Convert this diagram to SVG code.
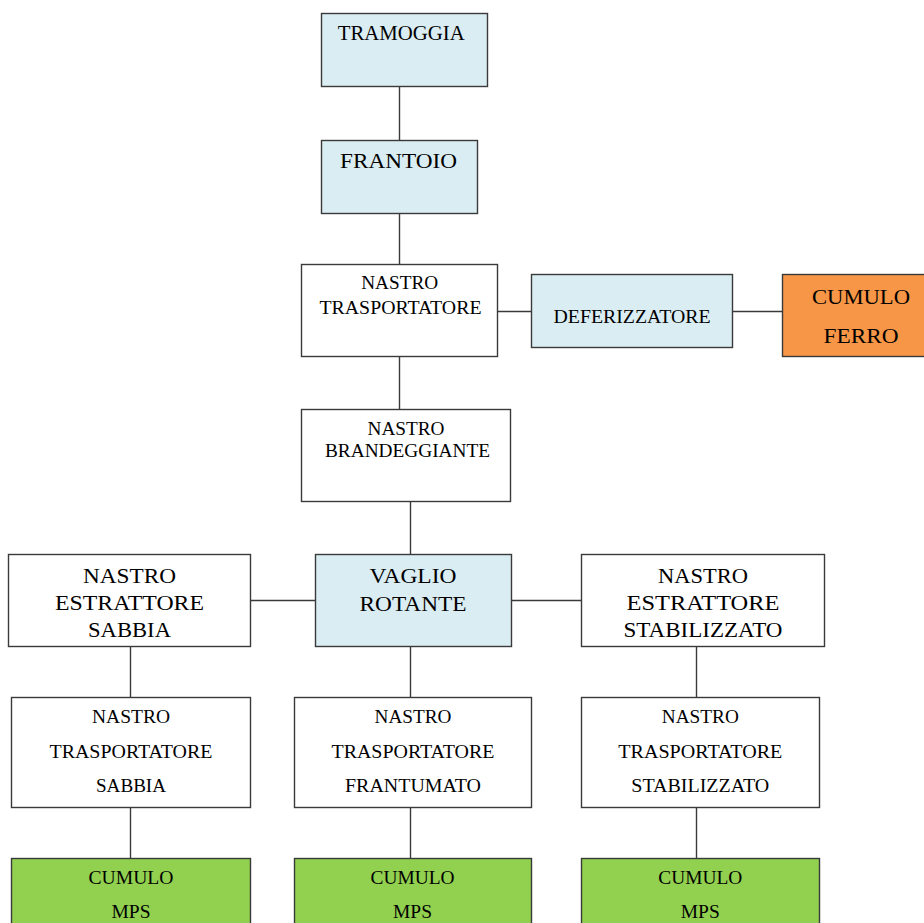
<svg xmlns="http://www.w3.org/2000/svg" width="924" height="923" viewBox="0 0 924 923">
<style>
.n rect{stroke:#3a3a3a;stroke-width:1.4}
.w{fill:#ffffff}
.b{fill:#daedf3}
.o{fill:#f79646}
.g{fill:#92d050}
text{font-family:"Liberation Serif","Times New Roman",serif;fill:#000;text-anchor:middle}
.s18{font-size:18px}
.s19{font-size:19px}
.s21{font-size:21px}
.s22{font-size:22px}
#connectors line{stroke:#3a3a3a;stroke-width:1.4}
</style>
<rect x="0" y="0" width="924" height="923" fill="#ffffff"/>
<g id="connectors">
<line x1="399.5" y1="86" x2="399.5" y2="140"/>
<line x1="399.5" y1="213" x2="399.5" y2="264"/>
<line x1="497" y1="311.5" x2="532" y2="311.5"/>
<line x1="732" y1="311.5" x2="783" y2="311.5"/>
<line x1="399.5" y1="356" x2="399.5" y2="409"/>
<line x1="410.5" y1="501" x2="410.5" y2="554"/>
<line x1="251" y1="600.5" x2="315" y2="600.5"/>
<line x1="511" y1="600.5" x2="582" y2="600.5"/>
<line x1="130.5" y1="646" x2="130.5" y2="697"/>
<line x1="410.5" y1="646" x2="410.5" y2="697"/>
<line x1="696.5" y1="646" x2="696.5" y2="697"/>
<line x1="130.5" y1="807" x2="130.5" y2="858"/>
<line x1="410.5" y1="807" x2="410.5" y2="858"/>
<line x1="696.5" y1="807" x2="696.5" y2="858"/>
</g>
<g id="tramoggia" class="n">
<rect class="b" x="321.5" y="13.5" width="166" height="73"/>
<text class="s21" x="401.3" y="40" textLength="127" lengthAdjust="spacingAndGlyphs">TRAMOGGIA</text>
</g>
<g id="frantoio" class="n">
<rect class="b" x="321.5" y="140.5" width="156" height="73"/>
<text class="s22" x="398.5" y="168" textLength="117" lengthAdjust="spacingAndGlyphs">FRANTOIO</text>
</g>
<g id="nastro-trasportatore" class="n">
<rect class="w" x="301.5" y="264.5" width="196" height="92"/>
<text class="s18" x="399.7" y="289" textLength="77" lengthAdjust="spacingAndGlyphs">NASTRO</text>
<text class="s18" x="400.5" y="313.5" textLength="162" lengthAdjust="spacingAndGlyphs">TRASPORTATORE</text>
</g>
<g id="deferizzatore" class="n">
<rect class="b" x="531.5" y="274.5" width="201" height="73"/>
<text class="s18" x="632" y="323" textLength="157" lengthAdjust="spacingAndGlyphs">DEFERIZZATORE</text>
</g>
<g id="cumulo-ferro" class="n">
<rect class="o" x="782.5" y="274.5" width="160" height="82"/>
<text class="s22" x="861" y="304" textLength="98" lengthAdjust="spacingAndGlyphs">CUMULO</text>
<text class="s22" x="861" y="343" textLength="75" lengthAdjust="spacingAndGlyphs">FERRO</text>
</g>
<g id="nastro-brandeggiante" class="n">
<rect class="w" x="301.5" y="409.5" width="209" height="92"/>
<text class="s18" x="406" y="435" textLength="77" lengthAdjust="spacingAndGlyphs">NASTRO</text>
<text class="s18" x="407.5" y="457" textLength="165" lengthAdjust="spacingAndGlyphs">BRANDEGGIANTE</text>
</g>
<g id="nastro-estrattore-sabbia" class="n">
<rect class="w" x="8.5" y="554.5" width="242" height="92"/>
<text class="s22" x="129.5" y="583" textLength="93" lengthAdjust="spacingAndGlyphs">NASTRO</text>
<text class="s22" x="129.5" y="610" textLength="149" lengthAdjust="spacingAndGlyphs">ESTRATTORE</text>
<text class="s22" x="129.5" y="637" textLength="83" lengthAdjust="spacingAndGlyphs">SABBIA</text>
</g>
<g id="vaglio-rotante" class="n">
<rect class="b" x="315.5" y="554.5" width="196" height="92"/>
<text class="s22" x="413" y="583" textLength="87" lengthAdjust="spacingAndGlyphs">VAGLIO</text>
<text class="s22" x="413" y="610.5" textLength="107" lengthAdjust="spacingAndGlyphs">ROTANTE</text>
</g>
<g id="nastro-estrattore-stabilizzato" class="n">
<rect class="w" x="581.5" y="554.5" width="243" height="92"/>
<text class="s22" x="703" y="583" textLength="90" lengthAdjust="spacingAndGlyphs">NASTRO</text>
<text class="s22" x="703" y="610" textLength="153" lengthAdjust="spacingAndGlyphs">ESTRATTORE</text>
<text class="s22" x="703" y="637" textLength="159" lengthAdjust="spacingAndGlyphs">STABILIZZATO</text>
</g>
<g id="nastro-trasportatore-sabbia" class="n">
<rect class="w" x="11.5" y="697.5" width="239" height="110"/>
<text class="s19" x="131" y="723" textLength="78" lengthAdjust="spacingAndGlyphs">NASTRO</text>
<text class="s19" x="131" y="758" textLength="163" lengthAdjust="spacingAndGlyphs">TRASPORTATORE</text>
<text class="s19" x="131" y="792" textLength="70" lengthAdjust="spacingAndGlyphs">SABBIA</text>
</g>
<g id="nastro-trasportatore-frantumato" class="n">
<rect class="w" x="294.5" y="697.5" width="237" height="110"/>
<text class="s19" x="413" y="723" textLength="77" lengthAdjust="spacingAndGlyphs">NASTRO</text>
<text class="s19" x="413" y="758" textLength="163" lengthAdjust="spacingAndGlyphs">TRASPORTATORE</text>
<text class="s19" x="413" y="792" textLength="136" lengthAdjust="spacingAndGlyphs">FRANTUMATO</text>
</g>
<g id="nastro-trasportatore-stabilizzato" class="n">
<rect class="w" x="581.5" y="697.5" width="238" height="110"/>
<text class="s19" x="700.3" y="723" textLength="77" lengthAdjust="spacingAndGlyphs">NASTRO</text>
<text class="s19" x="700.3" y="758" textLength="164" lengthAdjust="spacingAndGlyphs">TRASPORTATORE</text>
<text class="s19" x="700.3" y="792" textLength="138" lengthAdjust="spacingAndGlyphs">STABILIZZATO</text>
</g>
<g id="cumulo-mps-sabbia" class="n">
<rect class="g" x="11.5" y="858.5" width="239" height="80"/>
<text class="s19" x="131" y="884" textLength="85" lengthAdjust="spacingAndGlyphs">CUMULO</text>
<text class="s19" x="131" y="918" textLength="39" lengthAdjust="spacingAndGlyphs">MPS</text>
</g>
<g id="cumulo-mps-frantumato" class="n">
<rect class="g" x="294.5" y="858.5" width="237" height="80"/>
<text class="s19" x="412.5" y="884" textLength="84" lengthAdjust="spacingAndGlyphs">CUMULO</text>
<text class="s19" x="412.5" y="918" textLength="39" lengthAdjust="spacingAndGlyphs">MPS</text>
</g>
<g id="cumulo-mps-stabilizzato" class="n">
<rect class="g" x="581.5" y="858.5" width="238" height="80"/>
<text class="s19" x="700.3" y="884" textLength="84" lengthAdjust="spacingAndGlyphs">CUMULO</text>
<text class="s19" x="700.3" y="918" textLength="39" lengthAdjust="spacingAndGlyphs">MPS</text>
</g>
</svg>
